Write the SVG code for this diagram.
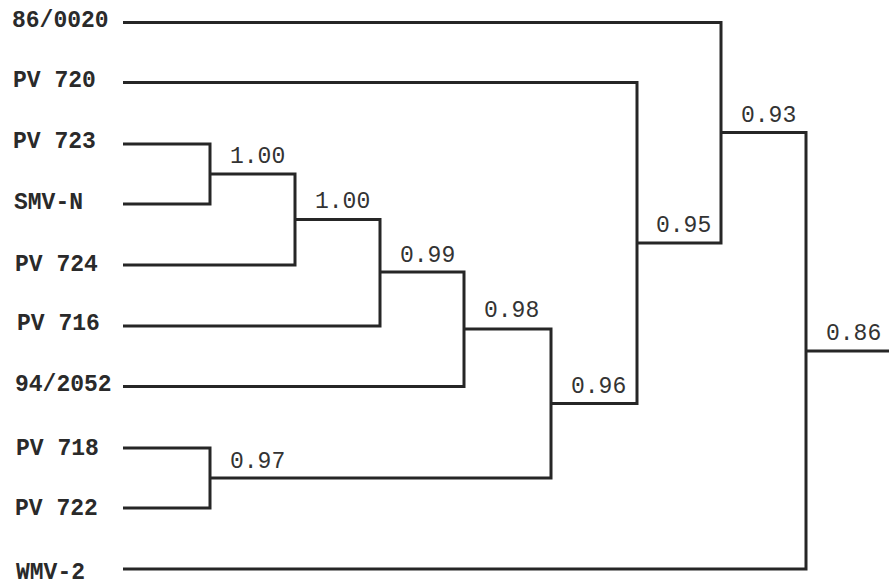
<svg xmlns="http://www.w3.org/2000/svg" width="889" height="585" viewBox="0 0 889 585">
  <style>
    .leaf text { font-family: "Liberation Mono", "DejaVu Sans Mono", monospace; font-weight: bold; font-size: 23px; fill: #2a2a2a; }
    .node text { font-family: "Liberation Mono", "DejaVu Sans Mono", monospace; font-size: 23px; fill: #333; }
    .edges path { fill: none; stroke: #262626; stroke-width: 3; stroke-linejoin: miter; stroke-linecap: butt; }
  </style>
  <rect width="889" height="585" fill="#fff"/>

  <!-- tree branches -->
  <g id="connectors" class="edges">
    <path d="M123 144 H210 V204 H123"/>
    <path d="M210 174 H295 V265 H123"/>
    <path d="M295 219.5 H380 V326 H123"/>
    <path d="M380 272 H464 V386.5 H123"/>
    <path d="M123 448 H210 V508 H123"/>
    <path d="M464 329 H551 V478 H210"/>
    <path d="M123 82.5 H637 V403.5 H551"/>
    <path d="M123 22.5 H721 V243 H637"/>
    <path d="M721 132.5 H806 V569 H123"/>
    <path d="M806 351 H889"/>
  </g>

  <!-- leaves -->
  <g id="leaf-86-0020" class="leaf"><text x="12" y="27">86/0020</text></g>
  <g id="leaf-pv720" class="leaf"><text x="13" y="87">PV 720</text></g>
  <g id="leaf-pv723" class="leaf"><text x="13" y="148">PV 723</text></g>
  <g id="leaf-smv-n" class="leaf"><text x="14" y="209">SMV-N</text></g>
  <g id="leaf-pv724" class="leaf"><text x="15" y="271">PV 724</text></g>
  <g id="leaf-pv716" class="leaf"><text x="17" y="330">PV 716</text></g>
  <g id="leaf-94-2052" class="leaf"><text x="15" y="391">94/2052</text></g>
  <g id="leaf-pv718" class="leaf"><text x="16" y="455">PV 718</text></g>
  <g id="leaf-pv722" class="leaf"><text x="15" y="515">PV 722</text></g>
  <g id="leaf-wmv-2" class="leaf"><text x="16" y="579">WMV-2</text></g>

  <!-- internal node support values -->
  <g id="node-a" class="node"><text x="230" y="163">1.00</text></g>
  <g id="node-b" class="node"><text x="315" y="208">1.00</text></g>
  <g id="node-c" class="node"><text x="400" y="262">0.99</text></g>
  <g id="node-d" class="node"><text x="484" y="317">0.98</text></g>
  <g id="node-e" class="node"><text x="230" y="468">0.97</text></g>
  <g id="node-f" class="node"><text x="571" y="393">0.96</text></g>
  <g id="node-g" class="node"><text x="656" y="232">0.95</text></g>
  <g id="node-h" class="node"><text x="741" y="122">0.93</text></g>
  <g id="node-i" class="node"><text x="826" y="340">0.86</text></g>
</svg>
